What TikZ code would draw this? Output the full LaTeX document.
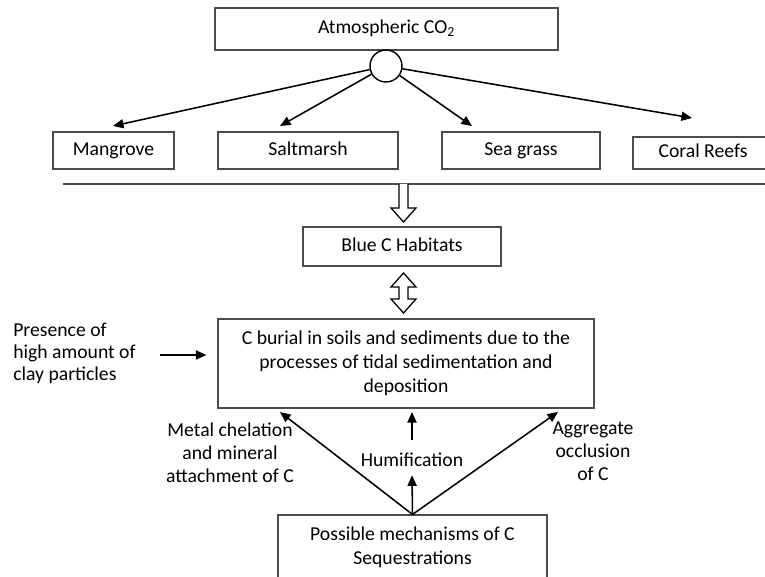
\documentclass[tikz,border=0pt]{standalone}
\usepackage{fontspec}
\setmainfont{Carlito}
\usepackage{tikz}
\usetikzlibrary{arrows.meta,positioning}

\begin{document}
\begin{tikzpicture}[
			x=0.025cm,
			y=-0.025cm,
			% Boxes
			habitatBox/.style={
				rectangle,
				draw=black!70,
				line width=0.8pt,
				fill=white,
				inner sep=0pt,
				font=\fontsize{14}{17}\selectfont
			},
			singleBox/.style={
				habitatBox,
				text height=10pt,
				text depth=3.5pt
			},
			hubCircle/.style={
				circle,
				draw=black,
				line width=1pt,
				fill=white,
				minimum size=0.8cm,
				inner sep=0pt
			},
			labeltext/.style={
				align=center,
				inner sep=0pt,
				font=\fontsize{14}{16.5}\selectfont
			},
			flow/.style={
				-{Triangle[length=7.5pt,width=6.5pt]},
				black,
				line width=1.1pt
			},
			hollow/.style={
				draw=black,
				line width=0.9pt,
				fill=white,
				line join=miter
			}
			]
			
			% Picture frame
			\clip (0,0) rectangle (765,577);
			\fill[white] (0,0) rectangle (765,577);
			
			% Source and blue-carbon ecosystems
			\node[
			singleBox,
			minimum width=8.575cm,
			minimum height=1.05cm
			] (atmos) at (386.5,29) {Atmospheric CO\textsubscript{2}};
			
			\node[hubCircle] (hub) at (386,66) {};
			
			\node[
			singleBox,
			minimum width=3.025cm,
			minimum height=0.925cm
			] (mangrove) at (113.5,150.5) {Mangrove};
			
			\node[
			singleBox,
			minimum width=4.5cm,
			minimum height=0.925cm
			] (saltmarsh) at (308,150.5) {Saltmarsh};
			
			\node[
			singleBox,
			minimum width=3.95cm,
			minimum height=0.925cm
			] (seagrass) at (521,150.5) {Sea grass};
			
			\node[
			singleBox,
			minimum width=3.5cm,
			minimum height=0.8cm
			] (coral) at (703,153) {Coral Reefs};
			
			% Arrow ends above the ecosystem boxes
			\coordinate (tipMangrove)  at (113,126);
			\coordinate (tipSaltmarsh) at (280,126);
			\coordinate (tipSeagrass)  at (472,126);
			\coordinate (tipCoral)     at (692,118);
			
			\draw[flow] (hub) -- (tipMangrove);
			\draw[flow] (hub) -- (tipSaltmarsh);
			\draw[flow] (hub) -- (tipSeagrass);
			\draw[flow] (hub) -- (tipCoral);
			
			% Divider
			\draw[black!70, line width=0.9pt] (63,184) -- (790,184);
			
			% Blue carbon habitats
			\node[
			singleBox,
			minimum width=4.95cm,
			minimum height=0.975cm
			] (habitats) at (402,246.5) {Blue C Habitats};
			
			\draw[hollow]
			(399,184) -- (399,208) -- (391,208) -- (403.5,222) --
			(416,208) -- (408,208) -- (408,184);
			
			\draw[hollow]
			(403.5,273) -- (416,287) -- (408,287) -- (408,299) --
			(416,299) -- (403.5,313) -- (391,299) -- (399,299) --
			(399,287) -- (391,287) -- cycle;
			
			% Carbon burial
			\node[
			habitatBox,
			minimum width=9.4cm,
			minimum height=2.225cm,
			align=center
			] (burial) at (406,363.5)
			{C burial in soils and sediments due to the\\
				processes of tidal sedimentation and\\
				deposition};
			
			\node[
			labeltext,
			align=left,
			anchor=west,
			font=\fontsize{14}{15.6}\selectfont
			] (clay) at (13,353)
			{Presence of\\
				high amount of\\
				clay particles};
			
			\draw[flow, shorten <=0.6cm, shorten >=0.275cm]
			([yshift=-0.05cm]clay.east) -- ([yshift=-0.05cm]clay.east -| burial.west);
			
			% Sequestration mechanisms
			\node[
			habitatBox,
			minimum width=6.725cm,
			minimum height=1.6cm,
			align=center
			] (mechanisms) at (412.5,547)
			{Possible mechanisms of C\\
				Sequestrations};
			
			\node[labeltext] (chelation) at (230,453)
			{Metal chelation\\
				and mineral\\
				attachment of C};
			
			\node[labeltext] (occlusion) at (593,451)
			{Aggregate\\
				occlusion\\
				of C};
			
			\node[
			labeltext,
			minimum height=0.75cm
			] (humification) at (412,460) {Humification};
			
			\coordinate (tipChelation) at (280,412);
			\coordinate (tipOcclusion) at (558,412);
			\coordinate (tipHumification) at (412,412);
			
			\draw[flow] (mechanisms.north) -- (tipChelation);
			\draw[flow] (mechanisms.north) -- (tipOcclusion);
			\draw[flow] (mechanisms.north) -- (humification.south);
			\draw[flow, shorten <=0.12cm] (humification.north) -- (tipHumification);
			
		\end{tikzpicture}
\end{document}
